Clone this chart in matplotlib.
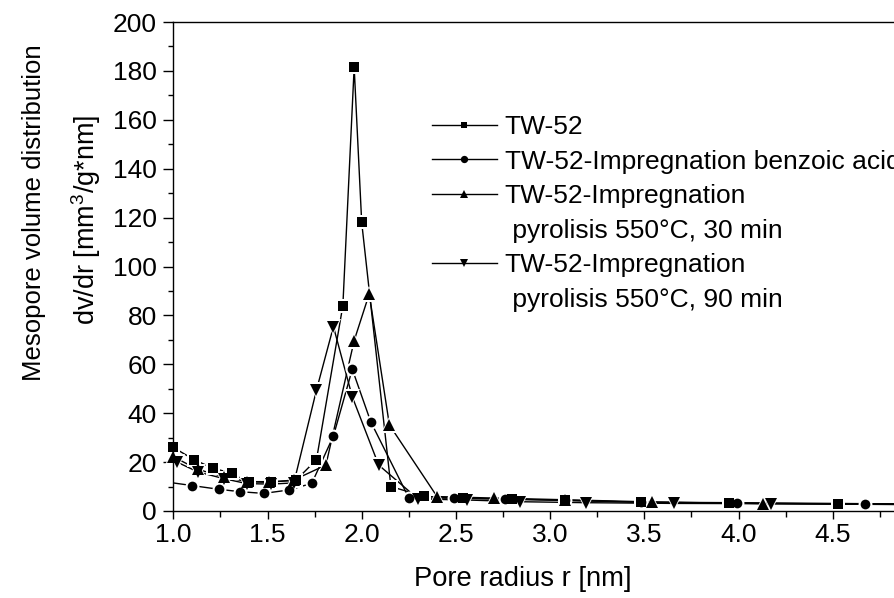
import numpy as np
import matplotlib
matplotlib.use("Agg")
import matplotlib.pyplot as plt
from matplotlib.lines import Line2D
from matplotlib.ticker import MultipleLocator, FormatStrFormatter

# =========================
# Pore size distributions (BJH, dv/dr)
# =========================
tw52_r = [1.00, 1.11, 1.21, 1.31, 1.40, 1.52, 1.65, 1.76, 1.90, 1.96, 2.00,
          2.155, 2.33, 2.54, 2.80, 3.08, 3.48, 3.95, 4.53, 5.20]
tw52_v = [26.0, 21.0, 17.5, 15.5, 12.0, 12.0, 12.5, 21.0, 84.0, 181.5, 118.0,
          10.0, 6.0, 5.2, 4.8, 4.4, 3.6, 3.2, 2.9, 2.6]

benz_r = [0.97, 1.10, 1.24, 1.354, 1.48, 1.614, 1.735, 1.85, 1.95, 2.048,
          2.25, 2.49, 2.76, 3.08, 3.48, 3.99, 4.67, 5.40]
benz_v = [11.8, 10.4, 8.9, 7.9, 7.2, 8.6, 11.3, 30.7, 58.0, 36.5,
          5.4, 5.2, 4.9, 4.3, 3.6, 3.4, 3.0, 2.8]

pyr30_r = [1.00, 1.13, 1.27, 1.39, 1.51, 1.64, 1.81, 1.96, 2.04, 2.147,
           2.40, 2.70, 3.08, 3.54, 4.13, 4.90]
pyr30_v = [22.2, 17.0, 14.0, 12.0, 11.7, 12.7, 18.8, 69.7, 88.8, 35.2,
           5.9, 5.3, 4.6, 3.7, 3.0, 2.7]

pyr90_r = [1.02, 1.13, 1.27, 1.39, 1.52, 1.64, 1.76, 1.85, 1.95, 2.09,
           2.30, 2.56, 2.84, 3.19, 3.66, 4.17, 4.92]
pyr90_v = [20.0, 16.0, 13.2, 11.2, 11.0, 11.5, 49.5, 75.4, 46.7, 18.8,
           4.9, 4.5, 3.8, 3.4, 3.1, 3.0, 2.6]

# legend rows; continuation lines get no handle
labels = [
    "TW-52",
    "TW-52-Impregnation benzoic acid",
    "TW-52-Impregnation",
    " pyrolisis 550°C, 30 min",
    "TW-52-Impregnation",
    " pyrolisis 550°C, 90 min",
]
label_series = [0, 1, 2, None, 3, None]

series = [
    (tw52_r, tw52_v, "s", 6.5),
    (benz_r, benz_v, "o", 7.0),
    (pyr30_r, pyr30_v, "^", 8.5),
    (pyr90_r, pyr90_v, "v", 8.5),
]

plt.rcParams["font.family"] = ["Liberation Sans", "DejaVu Sans"]
plt.rcParams["font.size"] = 19
plt.rcParams["mathtext.fontset"] = "custom"
plt.rcParams["mathtext.rm"] = "Liberation Sans"

fig = plt.figure(figsize=(8.94, 5.98), dpi=100)
# axes run past the right edge of the figure
ax = fig.add_axes([173.3 / 894, 87 / 598, 753.6 / 894, 489 / 598])

series_handles = []
for r, v, m, ms in series:
    r = np.asarray(r)
    v = np.asarray(v)
    ax.plot(r, v, color="black", linewidth=1.0, zorder=1)
    keep = r >= 1.0
    # white halo so the connecting lines stop short of each marker
    ax.plot(r[keep], v[keep], linestyle="none", marker=m, markersize=ms + 3,
            color="white", markeredgewidth=0, zorder=2, clip_on=False)
    ax.plot(r[keep], v[keep], linestyle="none", marker=m, markersize=ms,
            color="black", markeredgewidth=0, zorder=3, clip_on=False)
    series_handles.append(Line2D([], [], color="black", linewidth=1.0, marker=m,
                                 markersize=ms * 0.75, markeredgewidth=0))

blank = Line2D([], [], linestyle="none")
handles = [series_handles[i] if i is not None else blank for i in label_series]

ax.set_xlim(1.0, 5.0)
ax.set_ylim(0, 200)

ax.xaxis.set_major_locator(MultipleLocator(0.5))
ax.xaxis.set_minor_locator(MultipleLocator(0.25))
ax.yaxis.set_major_locator(MultipleLocator(20))
ax.yaxis.set_minor_locator(MultipleLocator(10))
ax.xaxis.set_major_formatter(FormatStrFormatter("%.1f"))

ax.tick_params(axis="both", which="both", direction="out", width=1.0)
ax.tick_params(axis="x", which="major", length=6, pad=3)
ax.tick_params(axis="x", which="minor", length=4)
ax.tick_params(axis="y", which="major", length=7, pad=5)
ax.tick_params(axis="y", which="minor", length=3.5)

for side in ["left", "bottom", "top"]:
    ax.spines[side].set_linewidth(1.0)
ax.spines["right"].set_visible(False)

ax.set_xlabel("Pore radius r [nm]", fontsize=19.7)
ax.xaxis.set_label_coords(0.464, -0.112)

# two-line y title
fig.text(34 / 894, 1 - 213 / 598, "Mesopore volume distribution",
         rotation=90, ha="center", va="center", fontsize=18.5)
fig.text(86 / 894, 1 - 220 / 598, "dv/dr [mm$^3$/g*nm]",
         rotation=90, ha="center", va="center", fontsize=19.5)

fig.legend(handles, labels, loc="upper left",
           bbox_to_anchor=(432 / 894, 1 - 115 / 598),
           frameon=False, borderpad=0, borderaxespad=0,
           handlelength=2.45, handletextpad=0.3, labelspacing=0.40,
           fontsize=19)

fig.savefig("out.png", dpi=100)
